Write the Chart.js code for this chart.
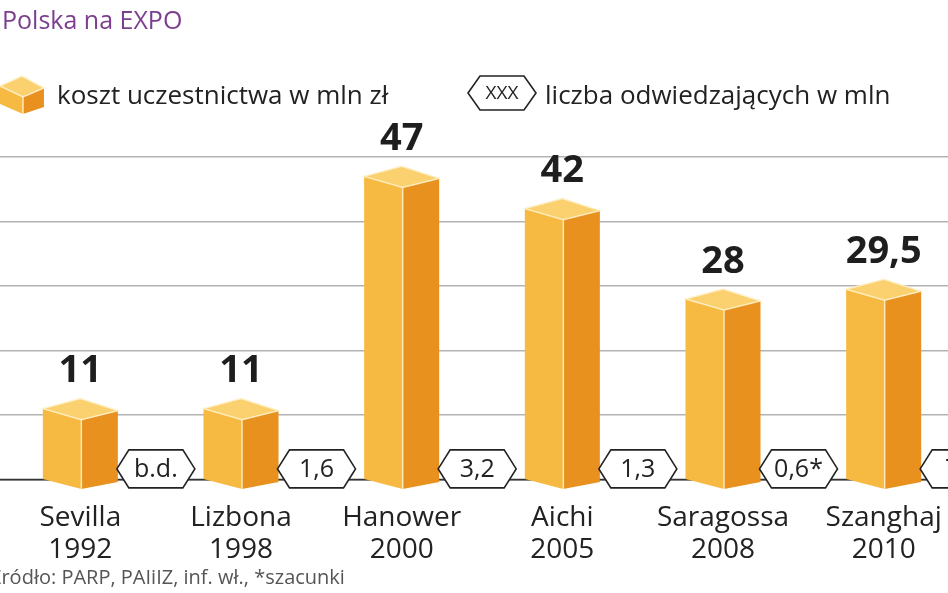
<!DOCTYPE html>
<html>
<head>
<meta charset="utf-8">
<script src="https://cdn.jsdelivr.net/npm/chart.js@4"></script>
<style>
  html, body { margin: 0; padding: 0; background: #fff; overflow: hidden; }
  body { width: 948px; height: 593px; position: relative; font-family: "Open Sans", sans-serif; }
  #wrap { position: absolute; left: -10px; top: 0; width: 1000px; height: 593px; }
  .txt { position: absolute; white-space: nowrap; color: #222; }
  #title { left: 2px; top: 2px; font-size: 25px; color: #7b3f8e; }
  #leg1 { left: 57px; top: 76px; font-size: 26px; }
  #leg2 { left: 545px; top: 76px; font-size: 26px; }
  #source { left: -10px; top: 563px; font-size: 20px; color: #555; }
</style>
</head>
<body>
<div id="wrap"><canvas id="chart" width="1000" height="593"></canvas></div>
<div class="txt" id="title">Polska na EXPO</div>
<div class="txt" id="leg1">koszt uczestnictwa w mln zł</div>
<div class="txt" id="leg2">liczba odwiedzających w mln</div>
<div class="txt" id="source">Źródło: PARP, PAIiIZ, inf. wł., *szacunki</div>
<script>
const cities = ["Sevilla", "Lizbona", "Hanower", "Aichi", "Saragossa", "Szanghaj"];
const years = ["1992", "1998", "2000", "2005", "2008", "2010"];
const costs = [11, 11, 47, 42, 28, 29.5];
const costLabels = ["11", "11", "47", "42", "28", "29,5"];
const visitors = ["b.d.", "1,6", "3,2", "1,3", "0,6*", "73"];

const LEFT = "#f6b941";
const RIGHT = "#e8911e";
const TOP = "#fad16e";

function drawPrism(ctx, x, y, base, h) {
  ctx.save();
  ctx.strokeStyle = "rgba(255,240,200,0.9)";
  ctx.lineWidth = 1.5;
  // left face
  ctx.fillStyle = LEFT;
  ctx.beginPath();
  ctx.moveTo(x - h, y); ctx.lineTo(x + 1, y + 11);
  ctx.lineTo(x + 1, base + 10); ctx.lineTo(x - h, base);
  ctx.closePath(); ctx.fill();
  // right face
  ctx.fillStyle = RIGHT;
  ctx.beginPath();
  ctx.moveTo(x + 1, y + 11); ctx.lineTo(x + h, y + 2);
  ctx.lineTo(x + h, base + 3); ctx.lineTo(x + 1, base + 10);
  ctx.closePath(); ctx.fill();
  // top
  ctx.fillStyle = TOP;
  ctx.beginPath();
  ctx.moveTo(x - h, y); ctx.lineTo(x, y - 10);
  ctx.lineTo(x + h, y + 2); ctx.lineTo(x + 1, y + 11);
  ctx.closePath(); ctx.fill(); ctx.stroke();
  ctx.beginPath();
  ctx.moveTo(x + 1, y + 11); ctx.lineTo(x + 1, base + 10);
  ctx.stroke();
  ctx.restore();
}

function drawHex(ctx, left, cy, w, hh, text, size) {
  ctx.save();
  ctx.fillStyle = "#fff";
  ctx.strokeStyle = "#222";
  ctx.lineWidth = 1.6;
  ctx.beginPath();
  ctx.moveTo(left, cy);
  ctx.lineTo(left + 12, cy - hh / 2);
  ctx.lineTo(left + w - 12, cy - hh / 2);
  ctx.lineTo(left + w, cy);
  ctx.lineTo(left + w - 12, cy + hh / 2);
  ctx.lineTo(left + 12, cy + hh / 2);
  ctx.closePath();
  ctx.fill(); ctx.stroke();
  ctx.fillStyle = "#222";
  ctx.font = size + "px 'Open Sans', sans-serif";
  ctx.textAlign = "center";
  ctx.textBaseline = "middle";
  ctx.fillText(text, left + w / 2, cy + 1);
  ctx.restore();
}

const prismPlugin = {
  id: "prisms",
  beforeDatasetsDraw(chart) {
    const ctx = chart.ctx;
    const base = chart.scales.y.getPixelForValue(0);
    ctx.save();
    ctx.strokeStyle = "#333";
    ctx.lineWidth = 1.6;
    ctx.beginPath();
    ctx.moveTo(0, base); ctx.lineTo(chart.width, base);
    ctx.stroke();
    ctx.restore();
  },
  afterDatasetsDraw(chart) {
    const ctx = chart.ctx;
    const meta = chart.getDatasetMeta(0);
    meta.data.forEach((bar, i) => {
      const h = bar.width / 2;
      drawPrism(ctx, bar.x, bar.y, bar.base, h);
      ctx.save();
      ctx.fillStyle = "#1e1e1e";
      ctx.font = "bold 38px 'Open Sans', sans-serif";
      ctx.textAlign = "center";
      ctx.textBaseline = "middle";
      ctx.fillText(costLabels[i], bar.x, bar.y - 37);
      ctx.restore();
      drawHex(ctx, bar.x + h - 1, bar.base - 10, 78, 38, visitors[i], 25);
    });
    // legend icons (canvas is shifted 10px left)
    drawPrism(ctx, 32, 86, 104, 22);
    drawHex(ctx, 478, 93, 68, 34, "XXX", 19);
  }
};

new Chart(document.getElementById("chart"), {
  type: "bar",
  data: {
    labels: cities.map((c, i) => [c, years[i]]),
    datasets: [{
      data: costs,
      backgroundColor: "rgba(0,0,0,0)",
      categoryPercentage: 1,
      barPercentage: 0.467
    }]
  },
  options: {
    responsive: false,
    animation: false,
    layout: { padding: { left: 10, right: 26, top: 157, bottom: 5 } },
    plugins: { legend: { display: false }, tooltip: { enabled: false } },
    scales: {
      x: {
        grid: { display: false, drawTicks: false },
        border: { display: false },
        ticks: {
          color: "#222",
          padding: 22,
          maxRotation: 0,
          font: { family: "'Open Sans', sans-serif", size: 28, lineHeight: 1.15 }
        }
      },
      y: {
        min: 0,
        max: 50,
        ticks: { display: false, stepSize: 10 },
        border: { display: false },
        grid: { color: "#b3b3b3", lineWidth: 1.4, drawTicks: false }
      }
    }
  },
  plugins: [prismPlugin]
});
</script>
</body>
</html>
